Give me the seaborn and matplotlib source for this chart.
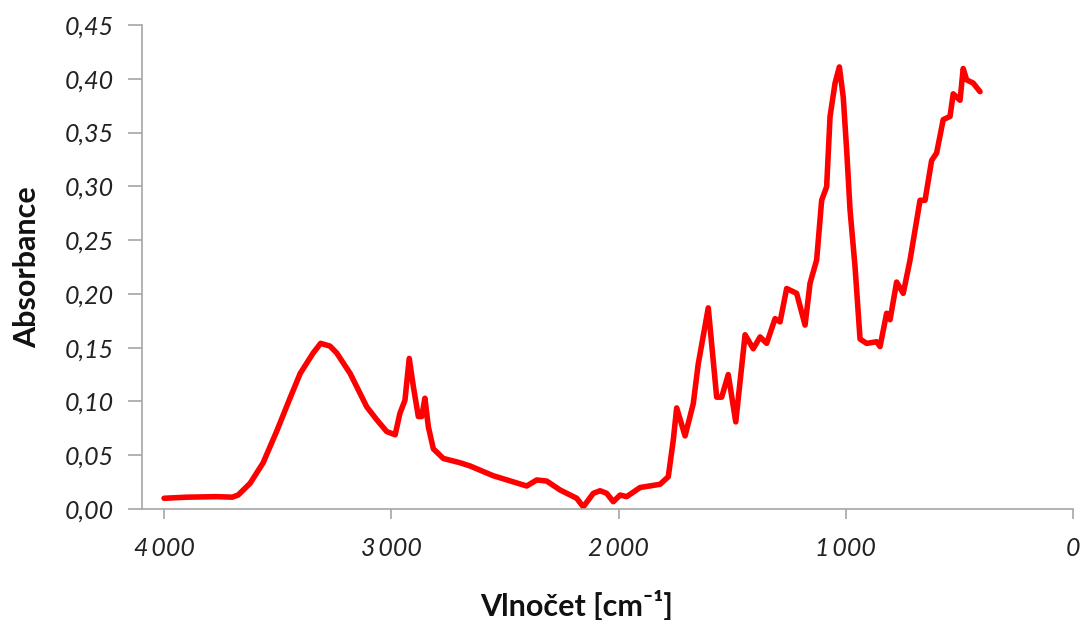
import matplotlib
matplotlib.use("Agg")
import matplotlib.pyplot as plt
from matplotlib.ticker import FuncFormatter, MultipleLocator
import seaborn as sns
import pandas as pd

# IR spectrum: wavenumber [cm-1] and absorbance
wavenumber = [4000, 3900, 3768, 3700, 3674, 3621, 3564, 3503, 3444, 3401, 3344, 3311,
              3270, 3240, 3181, 3108, 3064, 3020, 2983, 2962, 2940, 2921, 2903, 2881,
              2866, 2852, 2837, 2815, 2771, 2697, 2653, 2552, 2404, 2360, 2316, 2257,
              2184, 2155, 2111, 2081, 2052, 2023, 1993, 1964, 1905, 1817, 1781, 1759,
              1744, 1707, 1671, 1649, 1605, 1568, 1546, 1517, 1484, 1443, 1407, 1377,
              1348, 1311, 1289, 1260, 1216, 1179, 1157, 1128, 1106, 1084, 1069, 1047,
              1028, 1011, 996, 981, 959, 937, 908, 864, 849, 820, 805, 776, 747, 717,
              673, 651, 622, 600, 571, 541, 527, 497, 483, 468, 439, 409]
absorbance = [0.010, 0.011, 0.0115, 0.011, 0.013, 0.024, 0.043, 0.073, 0.104, 0.126, 0.145, 0.154,
              0.1515, 0.145, 0.126, 0.095, 0.083, 0.072, 0.069, 0.089, 0.101, 0.140, 0.114, 0.086,
              0.086, 0.103, 0.0765, 0.056, 0.047, 0.043, 0.040, 0.031, 0.0214, 0.027, 0.026, 0.0177,
              0.010, 0.002, 0.0146, 0.017, 0.0146, 0.0068, 0.013, 0.0115, 0.020, 0.023, 0.030, 0.064,
              0.094, 0.068, 0.098, 0.135, 0.187, 0.104, 0.104, 0.125, 0.081, 0.162, 0.149, 0.160,
              0.154, 0.177, 0.174, 0.205, 0.2005, 0.171, 0.210, 0.2315, 0.287, 0.2997, 0.365, 0.396,
              0.411, 0.383, 0.334, 0.278, 0.225, 0.158, 0.154, 0.1555, 0.151, 0.182, 0.176, 0.211, 0.2005, 0.2315,
              0.287, 0.287, 0.324, 0.331, 0.362, 0.365, 0.386, 0.380, 0.4095, 0.399, 0.396, 0.388]

df = pd.DataFrame({"wavenumber": wavenumber, "absorbance": absorbance})

sns.set_style("white")
plt.rcParams["font.family"] = ["Lato", "DejaVu Sans"]

fig = plt.figure(figsize=(10.85, 6.2), dpi=100)
ax = fig.add_axes([0.1309, 0.179, 0.858, 0.7807])

sns.lineplot(data=df, x="wavenumber", y="absorbance", sort=False,
             color="#FF0000", linewidth=4.0, ax=ax,
             solid_joinstyle="round", solid_capstyle="round")

ax.set_xlim(4097, 0)
ax.set_ylim(0, 0.45)
ax.xaxis.set_major_locator(MultipleLocator(1000))
ax.yaxis.set_major_locator(MultipleLocator(0.05))
ax.xaxis.set_major_formatter(FuncFormatter(
    lambda v, p: f"{int(round(v)):,}".replace(",", "\u2009") if v >= 1000 else f"{int(round(v))}"))
ax.yaxis.set_major_formatter(FuncFormatter(lambda v, p: f"{v:.2f}".replace(".", ",")))

for side in ("top", "right"):
    ax.spines[side].set_visible(False)
for side in ("left", "bottom"):
    ax.spines[side].set_color("#a6a6a6")
    ax.spines[side].set_linewidth(1.2)

ax.tick_params(axis="y", direction="out", length=10, width=1.2, color="#a6a6a6",
               labelsize=18, pad=10, left=True)
ax.tick_params(axis="x", direction="out", length=7, width=1.2, color="#a6a6a6",
               labelsize=18, pad=13, bottom=True)
for lab in ax.get_xticklabels() + ax.get_yticklabels():
    lab.set_fontstyle("italic")
    lab.set_color("#222222")

ax.set_xlabel("Vlnočet [cm\u207b\u00b9]", fontsize=22, fontweight="bold", color="#111111")
ax.set_ylabel("Absorbance", fontsize=22, fontweight="bold", color="#111111")
ax.xaxis.set_label_coords(0.467, -0.168)
ax.yaxis.set_label_coords(-0.108, 0.5)

fig.savefig("out.png", dpi=100)
